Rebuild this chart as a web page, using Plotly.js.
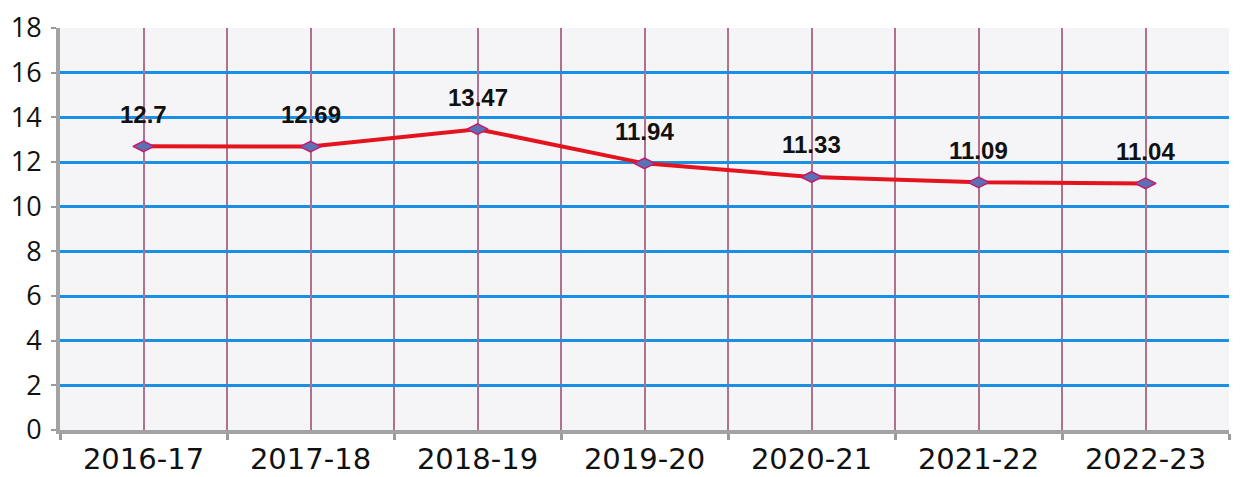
<!DOCTYPE html>
<html>
<head>
<meta charset="utf-8">
<script src="https://cdn.plot.ly/plotly-3.0.1.min.js"></script>
<style>
  html, body { margin: 0; padding: 0; background: #ffffff; }
  #chart { width: 1240px; height: 477px; }
</style>
</head>
<body>
<div id="chart"></div>
<script>
// ---- data ----
var years = ["2016-17", "2017-18", "2018-19", "2019-20", "2020-21", "2021-22", "2022-23"];
var values = [12.7, 12.69, 13.47, 11.94, 11.33, 11.09, 11.04];
var valueLabels = ["12.7", "12.69", "13.47", "11.94", "11.33", "11.09", "11.04"];
var yTicks = [0, 2, 4, 6, 8, 10, 12, 14, 16, 18];

var mainTrace = {
  type: "scatter",
  mode: "lines+markers",
  x: years,
  y: values,
  xaxis: "x",
  yaxis: "y",
  line: { color: "#e3141e", width: 4 },
  marker: {
    symbol: "diamond-wide",
    size: 15,
    color: "#5a72b4",
    line: { color: "#c8186a", width: 1.5 }
  },
  hoverinfo: "x+y",
  showlegend: false
};

// helper trace so the second x axis (grid at category centres) is drawn
var gridTrace = {
  type: "scatter",
  mode: "none",
  x: years,
  y: values,
  xaxis: "x2",
  yaxis: "y",
  hoverinfo: "skip",
  showlegend: false
};

var annotations = years.map(function (yr, i) {
  return {
    x: yr,
    y: values[i],
    xref: "x",
    yref: "y",
    text: "<b>" + valueLabels[i] + "</b>",
    showarrow: false,
    yshift: 32,
    font: { family: "Liberation Sans, Arial, sans-serif", size: 24, color: "#111111" }
  };
});

var layout = {
  width: 1240,
  height: 477,
  margin: { l: 60, r: 11, t: 28, b: 47 },
  paper_bgcolor: "#ffffff",
  plot_bgcolor: "#f5f5f7",
  showlegend: false,
  xaxis: {
    type: "category",
    categoryorder: "array",
    categoryarray: years,
    range: [-0.5, 6.5],
    tickson: "boundaries",
    ticks: "outside",
    ticklen: 6,
    tickwidth: 3,
    tickcolor: "#9a9a9a",
    showgrid: true,
    gridcolor: "#b07090",
    gridwidth: 2,
    showline: true,
    linecolor: "#a3a3a3",
    linewidth: 4,
    zeroline: false,
    ticklabelstandoff: 0,
    tickfont: { family: "DejaVu Sans, sans-serif", size: 29, color: "#111111" }
  },
  xaxis2: {
    type: "category",
    categoryorder: "array",
    categoryarray: years,
    range: [-0.5, 6.5],
    overlaying: "x",
    anchor: "y",
    side: "bottom",
    showgrid: true,
    gridcolor: "#b07090",
    gridwidth: 2,
    showticklabels: false,
    ticks: "",
    showline: false,
    zeroline: false
  },
  yaxis: {
    range: [0, 18],
    tickvals: yTicks,
    ticktext: yTicks.map(String),
    ticks: "outside",
    ticklen: 5,
    tickwidth: 2,
    tickcolor: "#9a9a9a",
    showgrid: true,
    gridcolor: "#1a8fe6",
    gridwidth: 3,
    showline: true,
    linecolor: "#a3a3a3",
    linewidth: 4,
    zeroline: false,
    ticklabelstandoff: 4,
    tickfont: { family: "Open Sans, sans-serif", size: 27, color: "#111111" }
  },
  annotations: annotations
};

Plotly.newPlot("chart", [gridTrace, mainTrace], layout, { displayModeBar: false, staticPlot: true });
</script>
</body>
</html>
